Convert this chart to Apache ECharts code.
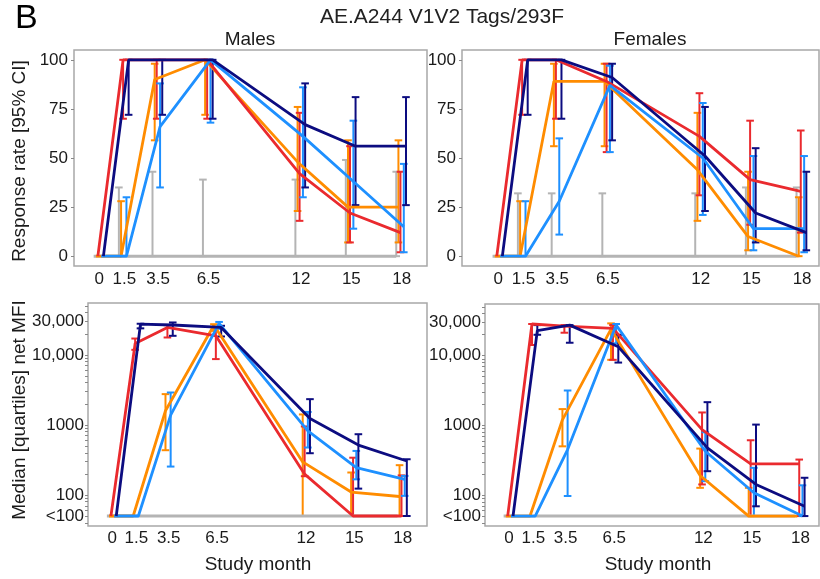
<!DOCTYPE html>
<html>
<head>
<meta charset="utf-8">
<script src="https://cdn.jsdelivr.net/npm/echarts@6/dist/echarts.min.js"></script>
<style>
  html, body { margin: 0; background: #fff; }
  #chart { width: 820px; height: 579px; }
</style>
</head>
<body>
<div id="chart"></div>
<script>
// study months and tick labels
const months = [0, 1.5, 3.5, 6.5, 12, 15, 18];
const monthLabels = ['0', '1.5', '3.5', '6.5', '12', '15', '18'];
const rateTicks = [0, 25, 50, 75, 100];
const mfiTicks = [50, 100, 1000, 10000, 30000];
const mfiTickLabels = ['<100', '100', '1000', '10,000', '30,000'];

// Males - response rate [95% CI]
const maleRateControl = [0, 0, 0, 0, 0, 0, 0];
const maleRateControlCI = [null, [0, 35], [0, 43], [0, 39], [0, 39], [0, 49], [0, 43]];
const maleRateOrange = [0, 0, 90, 100, 48, 25, 25];
const maleRateOrangeCI = [null, [0, 28], [59, 98], [72, 100], [23, 76], [7, 59], [7, 59]];
const maleRateRed = [0, 100, 100, 100, 42, 22, 12];
const maleRateRedCI = [null, [70, 100], [70, 100], [70, 100], [18, 73], [7, 56], [2, 43]];
const maleRateBlue = [0, 0, 66, 100, 61, 38, 15];
const maleRateBlueCI = [null, [0, 30], [35, 88], [68, 100], [30, 86], [14, 69], [2, 47]];
const maleRateNavy = [0, 100, 100, 100, 67, 56, 56];
const maleRateNavyCI = [null, [72, 100], [72, 100], [70, 100], [35, 88], [26, 81], [26, 81]];

// Females - response rate [95% CI]
const femaleRateControl = [0, 0, 0, 0, 0, 0, 0];
const femaleRateControlCI = [null, [0, 32], [0, 32], [0, 32], [0, 32], [0, 35], [0, 35]];
const femaleRateOrange = [0, 0, 89, 89, 44, 10, 0];
const femaleRateOrangeCI = [null, [0, 28], [56, 98], [56, 98], [18, 73], [3, 43], [0, 30]];
const femaleRateRed = [0, 100, 100, 89, 61, 39, 33];
const femaleRateRedCI = [null, [72, 100], [70, 100], [53, 98], [31, 83], [16, 69], [12, 64]];
const femaleRateBlue = [0, 0, 28, 87, 50, 14, 14];
const femaleRateBlueCI = [null, [0, 28], [11, 60], [53, 97], [21, 78], [3, 51], [2, 51]];
const femaleRateNavy = [0, 100, 100, 91, 51, 22, 12];
const femaleRateNavyCI = [null, [72, 100], [70, 100], [59, 98], [23, 76], [7, 55], [3, 43]];

// Males - median [quartiles] net MFI (50 = <100)
const maleMfiControl = [50, 50, 50, 50, 50, 50, 50];
const maleMfiControlQ = [null, null, null, null, null, null, null];
const maleMfiOrange = [50, 50, 1590, 26500, 296, 110, 95];
const maleMfiOrangeQ = [null, null, [435, 2750], [22000, 27400], [50, 1410], [50, 209], [50, 266]];
const maleMfiRed = [50, 14500, 24600, 18700, 198, 50, 50];
const maleMfiRedQ = [null, [11800, 17100], [17700, 26500], [8700, 24600], [185, 950], [50, 340], [50, 190]];
const maleMfiBlue = [50, 50, 1380, 28200, 820, 246, 167];
const maleMfiBlueQ = [null, null, [254, 2900], [23500, 29500], [475, 1530], [167, 425], [97, 187]];
const maleMfiNavy = [50, 27400, 26700, 24600, 1230, 515, 305];
const maleMfiNavyQ = [null, [23900, 27800], [18700, 29000], [18300, 26000], [394, 2330], [123, 736], [50, 323]];

// Females - median [quartiles] net MFI (50 = <100)
const femaleMfiControl = [50, 50, 50, 50, 50, 50, 50];
const femaleMfiControlQ = [null, null, null, null, null, null, null];
const femaleMfiOrange = [50, 50, 1200, 24000, 191, 50, 50];
const femaleMfiOrangeQ = [null, null, [500, 1710], [8700, 29000], [127, 464], [50, 127], null];
const femaleMfiRed = [50, 28400, 26500, 24600, 870, 281, 281];
const femaleMfiRedQ = [null, [14200, 28400], [21300, 27400], [8700, 27400], [142, 1530], [50, 611], [50, 323]];
const femaleMfiBlue = [50, 50, 450, 27400, 425, 108, 50];
const femaleMfiBlueQ = [null, null, [97, 3160], [15000, 28400], [158, 795], [50, 246], [50, 138]];
const femaleMfiNavy = [50, 22800, 27400, 13400, 475, 142, 69];
const femaleMfiNavyQ = [null, [19900, 27400], [15300, 27400], [7950, 19900], [220, 2150], [69, 1025], [50, 177]];

const groups = ['control', 'orange', 'red', 'blue', 'navy'];
const colors = { control: '#b4b4b4', orange: '#ff8c00', red: '#ea2a2e', blue: '#1e90ff', navy: '#0c0c80' };
// horizontal dodge (in months) of each group around the study month
const dodge = { control: -0.33, orange: -0.2, red: -0.08, blue: 0.12, navy: 0.25 };

const panels = [
  { vals: [maleRateControl, maleRateOrange, maleRateRed, maleRateBlue, maleRateNavy],
    ci: [maleRateControlCI, maleRateOrangeCI, maleRateRedCI, maleRateBlueCI, maleRateNavyCI] },
  { vals: [femaleRateControl, femaleRateOrange, femaleRateRed, femaleRateBlue, femaleRateNavy],
    ci: [femaleRateControlCI, femaleRateOrangeCI, femaleRateRedCI, femaleRateBlueCI, femaleRateNavyCI] },
  { vals: [maleMfiControl, maleMfiOrange, maleMfiRed, maleMfiBlue, maleMfiNavy],
    ci: [maleMfiControlQ, maleMfiOrangeQ, maleMfiRedQ, maleMfiBlueQ, maleMfiNavyQ] },
  { vals: [femaleMfiControl, femaleMfiOrange, femaleMfiRed, femaleMfiBlue, femaleMfiNavy],
    ci: [femaleMfiControlQ, femaleMfiOrangeQ, femaleMfiRedQ, femaleMfiBlueQ, femaleMfiNavyQ] }
];

const font = 'Liberation Sans, Arial, sans-serif';
const textColor = '#1a1a1a';

const grids = [
  { left: 74, top: 50, width: 353, height: 216 },
  { left: 462, top: 50, width: 357, height: 216 },
  { left: 88, top: 303, width: 339, height: 223 },
  { left: 485, top: 304, width: 334, height: 222 }
].map(g => ({ ...g, show: true, borderColor: '#a8a8a8', borderWidth: 1.5, backgroundColor: '#fff' }));

const xRanges = [[-1.5, 19.5], [-2.14, 19.0], [-1.5, 19.5], [-1.48, 19.14]];

const monthLabel = v => {
  const i = months.findIndex(m => Math.abs(m - v) < 1e-6);
  return i >= 0 ? monthLabels[i] : '';
};
const mfiLabel = v => {
  let best = 0;
  mfiTicks.forEach((t, i) => {
    if (Math.abs(Math.log10(t) - Math.log10(v)) < Math.abs(Math.log10(mfiTicks[best]) - Math.log10(v))) best = i;
  });
  return mfiTickLabels[best];
};

// unlabelled minor ticks of the log axis
const minorTicks = [];
for (let d = 10; d <= 10000; d *= 10) {
  for (let k = 1; k <= 9; k++) {
    const v = d * k;
    if (v >= 40 && v <= 50000) minorTicks.push(v);
  }
}

const xAxes = grids.map((g, p) => ({
  gridIndex: p,
  type: 'value',
  min: xRanges[p][0],
  max: xRanges[p][1],
  axisLine: { show: false, onZero: false },
  axisTick: { show: false },
  splitLine: { show: false },
  axisLabel: {
    customValues: months,
    formatter: monthLabel,
    fontSize: 17,
    fontFamily: font,
    color: textColor,
    margin: p < 2 ? 5 : 4
  }
}));

const yAxes = grids.map((g, p) => p < 2 ? {
  gridIndex: p,
  type: 'value',
  min: -5,
  max: 105,
  axisLine: { show: false, onZero: false },
  splitLine: { show: false },
  axisTick: { show: true, customValues: rateTicks, length: 3, lineStyle: { color: '#888' } },
  axisLabel: { customValues: rateTicks, fontSize: 17, fontFamily: font, color: textColor, margin: 6 }
} : {
  gridIndex: p,
  type: 'log',
  logBase: 10,
  min: 36,
  max: 55000,
  axisLine: { show: false, onZero: false },
  splitLine: { show: false },
  minorSplitLine: { show: false },
  axisTick: { show: true, customValues: minorTicks, length: 3, lineStyle: { color: '#888' } },
  axisLabel: { customValues: mfiTicks, formatter: mfiLabel, fontSize: 17, fontFamily: font, color: textColor, margin: 4 }
});

const series = [];
panels.forEach((panel, p) => {
  groups.forEach((g, gi) => {
    const color = colors[g];
    const off = dodge[g];
    series.push({
      type: 'line',
      xAxisIndex: p,
      yAxisIndex: p,
      data: months.map((m, i) => [m + off, panel.vals[gi][i]]),
      showSymbol: false,
      symbol: 'none',
      lineStyle: { color, width: g === 'control' ? 3 : 2.8 },
      animation: false,
      silent: true
    });
    const bars = [];
    panel.ci[gi].forEach((c, i) => { if (c) bars.push([months[i] + off, c[0], c[1]]); });
    if (bars.length) {
      series.push({
        type: 'custom',
        xAxisIndex: p,
        yAxisIndex: p,
        data: bars,
        encode: { x: 0, y: [1, 2] },
        animation: false,
        silent: true,
        renderItem: (params, api) => {
          const lo = api.coord([api.value(0), api.value(1)]);
          const hi = api.coord([api.value(0), api.value(2)]);
          const hw = 3.8;
          const style = { stroke: color, lineWidth: 2 };
          return {
            type: 'group',
            children: [
              { type: 'line', shape: { x1: lo[0], y1: lo[1], x2: hi[0], y2: hi[1] }, style },
              { type: 'line', shape: { x1: lo[0] - hw, y1: lo[1], x2: lo[0] + hw, y2: lo[1] }, style },
              { type: 'line', shape: { x1: hi[0] - hw, y1: hi[1], x2: hi[0] + hw, y2: hi[1] }, style }
            ]
          };
        }
      });
    }
  });
});

const chart = echarts.init(document.getElementById('chart'), null, { renderer: 'canvas' });
chart.setOption({
  animation: false,
  backgroundColor: '#fff',
  textStyle: { fontFamily: font },
  grid: grids,
  xAxis: xAxes,
  yAxis: yAxes,
  series,
  graphic: [
    { type: 'text', left: 15, top: 2, style: { text: 'B', fontSize: 34, fontFamily: font, fill: '#000' } },
    { type: 'text', x: 442, y: 17, style: { text: 'AE.A244 V1V2 Tags/293F', fontSize: 21, fontFamily: font, fill: '#222', align: 'center', verticalAlign: 'middle' } },
    { type: 'text', x: 250, y: 40, style: { text: 'Males', fontSize: 19, fontFamily: font, fill: textColor, align: 'center', verticalAlign: 'middle' } },
    { type: 'text', x: 650, y: 40, style: { text: 'Females', fontSize: 19, fontFamily: font, fill: textColor, align: 'center', verticalAlign: 'middle' } },
    { type: 'text', x: 20, y: 161, rotation: Math.PI / 2, style: { text: 'Response rate [95% CI]', fontSize: 19, fontFamily: font, fill: textColor, align: 'center', verticalAlign: 'middle' } },
    { type: 'text', x: 20, y: 410, rotation: Math.PI / 2, style: { text: 'Median [quartiles] net MFI', fontSize: 19, fontFamily: font, fill: textColor, align: 'center', verticalAlign: 'middle' } },
    { type: 'text', x: 258, y: 565, style: { text: 'Study month', fontSize: 19, fontFamily: font, fill: textColor, align: 'center', verticalAlign: 'middle' } },
    { type: 'text', x: 658, y: 565, style: { text: 'Study month', fontSize: 19, fontFamily: font, fill: textColor, align: 'center', verticalAlign: 'middle' } }
  ]
});
</script>
</body>
</html>
